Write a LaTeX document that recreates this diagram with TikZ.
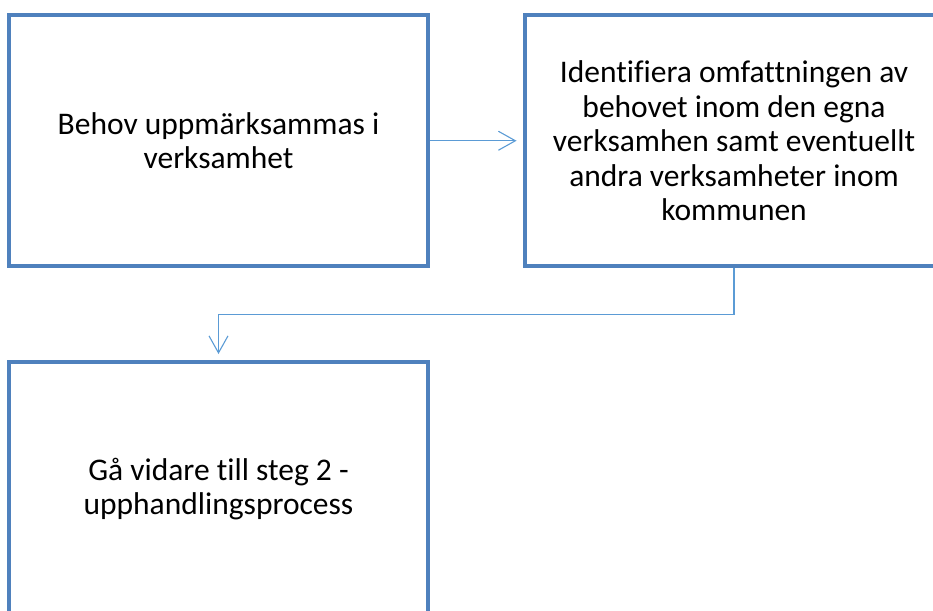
\documentclass[tikz,border=0pt]{standalone}
\usepackage{fontspec}
\setmainfont{Carlito}[Ligatures=NoCommon]
\usepackage{xcolor}
\usetikzlibrary{arrows.meta,calc,positioning}

\definecolor{boxblue}{RGB}{79,129,189}
\definecolor{linkblue}{RGB}{91,155,213}

\begin{document}
\begin{tikzpicture}[x=1pt,y=-1pt,
    stepbox/.style={draw=boxblue,line width=4pt,rectangle,align=center,
        minimum width=419pt,minimum height=251pt,inner sep=0pt,
        font=\fontsize{31.5}{34.5}\selectfont},
    link/.style={draw=linkblue,line width=1.1pt,
        -{Straight Barb[length=17pt,width=19pt,line width=1.1pt]},shorten >=6pt}]
    \useasboundingbox (0,0) rectangle (933,610);
    \clip (0,0) rectangle (933,610);

    % Drawing box behov
    \node [stepbox] (behov) at (218.5,140.75) {Behov uppmärksammas i\\verksamhet};%

    % Drawing box omfattning
    \node [stepbox] (omfattning) at (734,140.75)
        {Identifiera omfattningen av\\behovet inom den egna\\verksamhen samt eventuellt\\andra verksamheter inom\\kommunen};%

    % Drawing box steg
    \node [stepbox,minimum height=254pt] (steg) at (218.5,489)
        {Gå vidare till steg 2 -\\upphandlingsprocess};%

    % Drawing link behov -> omfattning
    \draw [link] (behov.east) -- (omfattning.west);%

    % Drawing link omfattning -> steg
    \draw [link] (omfattning.south) |- ($(omfattning.south)!0.5!(steg.north)$) -| (steg.north);%
\end{tikzpicture}
\end{document}
